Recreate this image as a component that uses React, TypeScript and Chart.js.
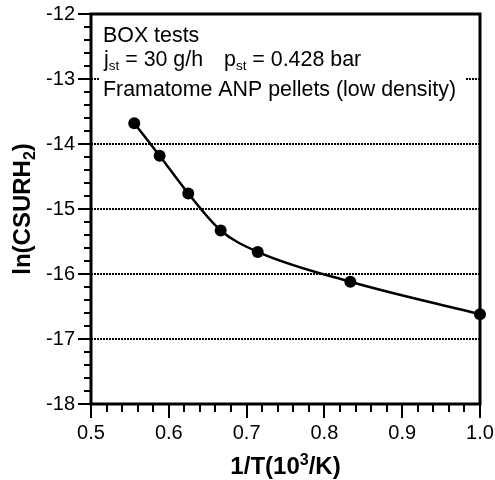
import React, { useEffect, useRef } from "react";
import { Chart, registerables } from "chart.js";

Chart.register(...registerables);

// ---- data ----
const invT = [0.5556, 0.5882, 0.625, 0.6667, 0.7143, 0.8333, 1.0];
const lnCsurh2 = [-13.68, -14.18, -14.76, -15.33, -15.66, -16.12, -16.62];
const xMin = 0.5;
const xMax = 1.0;
const yMin = -18;
const yMax = -12;
const xTitleMain = "1/T(10";
const xTitleSup = "3";
const xTitleEnd = "/K)";
const yTitleMain = "ln(CSURH";
const yTitleSub = "2";
const yTitleEnd = ")";
const noteLine1 = "BOX tests";
const noteJ = ["j", "st", " = 30 g/h"];
const noteP = ["p", "st", " = 0.428 bar"];
const noteLine3 = "Framatome ANP pellets (low density)";

const FAM = '"Liberation Sans", Arial, Helvetica, sans-serif';

const decorPlugin = {
  id: "decor",
  afterDraw(chart: any) {
    const { ctx, chartArea: a } = chart;
    const xs = chart.scales.x;
    const ys = chart.scales.y;
    ctx.save();

    // annotation box with white background
    ctx.fillStyle = "#ffffff";
    ctx.fillRect(a.left + 9, a.top + 6, 365, 86);
    ctx.fillStyle = "#000";
    ctx.textBaseline = "alphabetic";
    ctx.textAlign = "left";
    const tx = a.left + 12;
    const fs = 21.4;
    ctx.font = `${fs}px ${FAM}`;
    ctx.fillText(noteLine1, tx, a.top + 28);
    const drawSub = (parts: string[], x0: number, base: number) => {
      let x = x0;
      ctx.font = `${fs}px ${FAM}`;
      ctx.fillText(parts[0], x, base);
      x += ctx.measureText(parts[0]).width;
      ctx.font = `13.5px ${FAM}`;
      ctx.fillText(parts[1], x, base + 4);
      x += ctx.measureText(parts[1]).width;
      ctx.font = `${fs}px ${FAM}`;
      ctx.fillText(parts[2], x, base);
    };
    drawSub(noteJ, tx + 1, a.top + 52);
    drawSub(noteP, a.left + 133, a.top + 52);
    ctx.font = `${fs}px ${FAM}`;
    ctx.fillText(noteLine3, tx, a.top + 82);

    // frame
    ctx.strokeStyle = "#000";
    ctx.lineWidth = 3;
    ctx.strokeRect(a.left, a.top, a.right - a.left, a.bottom - a.top);

    // y ticks
    ctx.lineWidth = 2;
    for (let k = 0; k <= Math.round((yMax - yMin) * 5); k++) {
      const v = yMin + k * 0.2;
      const major = k % 5 === 0;
      const py = Math.round(ys.getPixelForValue(v));
      const len = major ? 13 : 7;
      ctx.beginPath();
      ctx.moveTo(a.left, py);
      ctx.lineTo(a.left - len, py);
      ctx.stroke();
    }
    // x ticks
    for (let k = 0; k <= Math.round((xMax - xMin) * 50); k++) {
      const v = xMin + k * 0.02;
      const major = k % 5 === 0;
      const px = Math.round(xs.getPixelForValue(v));
      const len = major ? 14 : 8;
      ctx.beginPath();
      ctx.moveTo(px, a.bottom);
      ctx.lineTo(px, a.bottom + len);
      ctx.stroke();
    }

    // x title
    ctx.fillStyle = "#000";
    ctx.textBaseline = "alphabetic";
    const big = `bold 24px ${FAM}`;
    const small = `bold 16px ${FAM}`;
    ctx.font = big;
    const w1 = ctx.measureText(xTitleMain).width;
    const w3 = ctx.measureText(xTitleEnd).width;
    ctx.font = small;
    const w2 = ctx.measureText(xTitleSup).width;
    const totalX = w1 + w2 + w3;
    const x0 = (a.left + a.right) / 2 - totalX / 2;
    const xb = 474;
    ctx.font = big;
    ctx.fillText(xTitleMain, x0, xb);
    ctx.font = small;
    ctx.fillText(xTitleSup, x0 + w1, xb - 9);
    ctx.font = big;
    ctx.fillText(xTitleEnd, x0 + w1 + w2, xb);

    // y title (rotated)
    ctx.save();
    ctx.translate(30, (a.top + a.bottom) / 2);
    ctx.rotate(-Math.PI / 2);
    ctx.font = big;
    const v1 = ctx.measureText(yTitleMain).width;
    const v3 = ctx.measureText(yTitleEnd).width;
    ctx.font = small;
    const v2 = ctx.measureText(yTitleSub).width;
    const totalY = v1 + v2 + v3;
    const y0 = -totalY / 2;
    ctx.font = big;
    ctx.fillText(yTitleMain, y0, 0);
    ctx.font = small;
    ctx.fillText(yTitleSub, y0 + v1, 5);
    ctx.font = big;
    ctx.fillText(yTitleEnd, y0 + v1 + v2, 0);
    ctx.restore();

    ctx.restore();
  },
};

export default function App() {
  const ref = useRef<HTMLCanvasElement | null>(null);
  useEffect(() => {
    document.body.style.margin = "0";
    const canvas = ref.current;
    if (!canvas) return;
    const chart = new Chart(canvas, {
      type: "line",
      data: {
        datasets: [
          {
            data: invT.map((v, i) => ({ x: v, y: lnCsurh2[i] })),
            borderColor: "#000",
            backgroundColor: "#000",
            borderWidth: 2.5,
            pointRadius: 6,
            pointBackgroundColor: "#000",
            pointBorderWidth: 0,
            cubicInterpolationMode: "monotone",
            clip: false,
          } as any,
        ],
      },
      options: {
        animation: false,
        responsive: false,
        devicePixelRatio: 1,
        layout: { padding: { top: 14, right: 15, left: 0, bottom: 0 } },
        plugins: { legend: { display: false }, tooltip: { enabled: false } },
        scales: {
          x: {
            type: "linear",
            min: xMin,
            max: xMax,
            afterFit: (s: any) => {
              s.height = 76;
              s.paddingLeft = 0;
              s.paddingRight = 0;
            },
            grid: { display: false, drawTicks: false },
            border: { display: false },
            ticks: {
              stepSize: 0.1,
              padding: 17,
              color: "#000",
              font: { family: FAM, size: 20 },
              maxRotation: 0,
              callback: (v: any) => Number(v).toFixed(1),
            },
          },
          y: {
            type: "linear",
            min: yMin,
            max: yMax,
            afterFit: (s: any) => {
              s.width = 91;
              s.paddingTop = 0;
              s.paddingBottom = 0;
            },
            grid: {
              drawTicks: false,
              lineWidth: 2,
              color: (c: any) =>
                c.tick && (c.tick.value === yMin || c.tick.value === yMax)
                  ? "rgba(0,0,0,0)"
                  : "#000",
            },
            border: { display: false, dash: [2, 1] },
            ticks: {
              stepSize: 1,
              padding: 16,
              color: "#000",
              font: { family: FAM, size: 20 },
              callback: (v: any) => String(v),
            },
          },
        },
      },
      plugins: [decorPlugin],
    });
    return () => chart.destroy();
  }, []);
  return <canvas ref={ref} width={495} height={480} style={{ display: "block" }} />;
}
